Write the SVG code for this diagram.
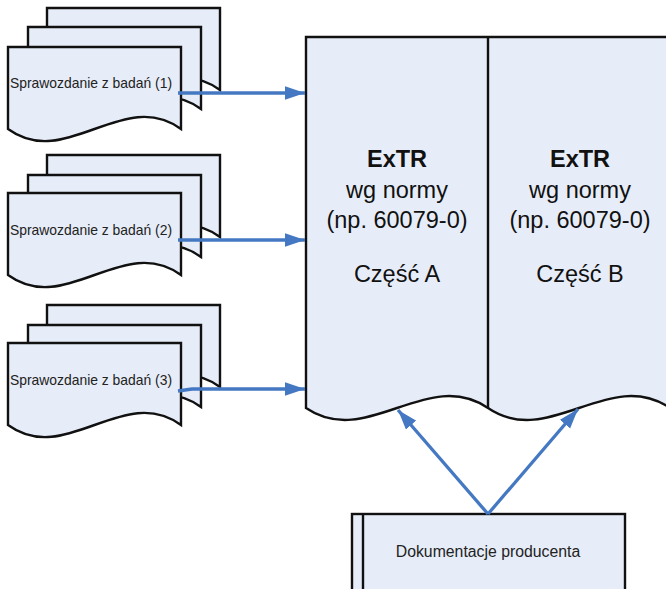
<svg xmlns="http://www.w3.org/2000/svg" xmlns:xlink="http://www.w3.org/1999/xlink" width="666" height="589" viewBox="0 0 666 589">
<style>
.shape{fill:#E7EDF8;stroke:#111;stroke-width:2.4;stroke-linejoin:miter}
.line{fill:none;stroke:#111;stroke-width:2.4}
.conn{fill:none;stroke:#4578C2;stroke-width:3.3}
.small{font-family:"Liberation Sans",Arial,sans-serif;font-size:13.9px;fill:#222;text-anchor:middle}
.big{font-family:"Liberation Sans",Arial,sans-serif;font-size:23.5px;fill:#111;text-anchor:middle}
.bold{font-weight:bold}
.doc{font-family:"Liberation Sans",Arial,sans-serif;font-size:15.8px;fill:#222;text-anchor:middle}
</style>
<defs>
<path id="sheet" class="shape" d="M0,0 H173 V82 C115.3,40 57.7,124 0,82 Z"/>
<marker id="arr" markerUnits="userSpaceOnUse" markerWidth="22" markerHeight="14" refX="20" refY="6.75" orient="auto">
<path d="M0,0 L20,6.75 L0,13.5 Z" fill="#4578C2"/>
</marker>
</defs>

<g id="stack1">
<use xlink:href="#sheet" href="#sheet" transform="translate(47,8)"/>
<use xlink:href="#sheet" href="#sheet" transform="translate(28,27)"/>
<use xlink:href="#sheet" href="#sheet" transform="translate(8,47)"/>
<text class="small" x="91" y="88">Sprawozdanie z badań (1)</text>
</g>

<g id="stack2">
<use xlink:href="#sheet" href="#sheet" transform="translate(47,155)"/>
<use xlink:href="#sheet" href="#sheet" transform="translate(28,175)"/>
<use xlink:href="#sheet" href="#sheet" transform="translate(8,193)"/>
<text class="small" x="91" y="235">Sprawozdanie z badań (2)</text>
</g>

<g id="stack3">
<use xlink:href="#sheet" href="#sheet" transform="translate(47,305)"/>
<use xlink:href="#sheet" href="#sheet" transform="translate(28,325)"/>
<use xlink:href="#sheet" href="#sheet" transform="translate(8,343)"/>
<text class="small" x="91" y="385">Sprawozdanie z badań (3)</text>
</g>

<g id="extr">
<path class="shape" d="M306,37 H700 V408 L670,408 C609,366.5 549,449.5 488,408 C427,366.5 367,449.5 306,408 Z"/>
<line class="line" x1="488" y1="37" x2="488" y2="408"/>
<text class="big bold" x="397" y="167">ExTR</text>
<text class="big" x="397" y="198">wg normy</text>
<text class="big" x="397" y="228">(np. 60079-0)</text>
<text class="big" x="397" y="282">Część A</text>
<text class="big bold" x="580" y="167">ExTR</text>
<text class="big" x="580" y="198">wg normy</text>
<text class="big" x="580" y="228">(np. 60079-0)</text>
<text class="big" x="580" y="282">Część B</text>
</g>

<g id="dokumentacje">
<rect class="shape" x="352" y="514" width="273" height="90"/>
<line class="line" x1="363" y1="514" x2="363" y2="600"/>
<text class="doc" x="488" y="557">Dokumentacje producenta</text>
</g>

<g id="connectors">
<path class="conn" d="M178,93 H305" marker-end="url(#arr)"/>
<path class="conn" d="M178,240 H305" marker-end="url(#arr)"/>
<path class="conn" d="M178,391 L192,389 H305" marker-end="url(#arr)"/>
<path class="conn" d="M488,514 L398,410" marker-end="url(#arr)"/>
<path class="conn" d="M488,514 L578,409" marker-end="url(#arr)"/>
</g>
</svg>
